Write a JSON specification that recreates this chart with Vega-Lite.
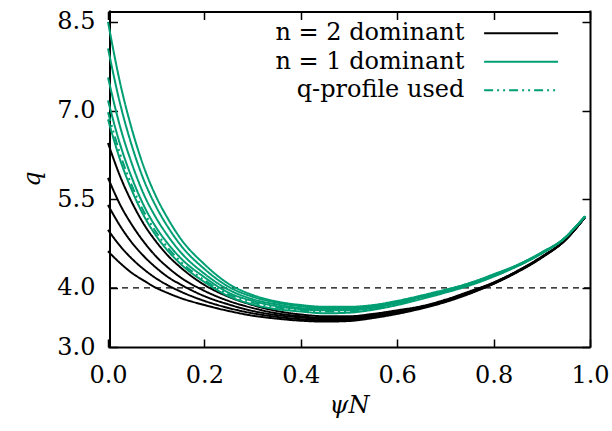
{
  "$schema": "https://vega.github.io/schema/vega-lite/v6.json",
  "width": 482,
  "height": 337,
  "autosize": {"type": "none"},
  "padding": {"left": 108, "top": 10, "right": 22, "bottom": 84},
  "background": "white",
  "config": {
    "view": {"stroke": null},
    "font": "DejaVu Serif",
    "axis": {
      "grid": false,
      "domain": true,
      "domainColor": "black",
      "domainWidth": 2,
      "ticks": true,
      "tickColor": "black",
      "tickWidth": 1.5,
      "tickSize": -8,
      "labelFlush": false,
      "labelOverlap": false,
      "labelFont": "DejaVu Serif",
      "labelFontSize": 24,
      "labelColor": "black",
      "titleFont": "DejaVu Serif",
      "titleFontSize": 24,
      "titleColor": "black",
      "titleFontWeight": "normal"
    }
  },
  "datasets": {
    "curves": [
      {"curve": "b1", "group": "n = 2 dominant"},
      {"curve": "b2", "group": "n = 2 dominant"},
      {"curve": "b3", "group": "n = 2 dominant"},
      {"curve": "b4", "group": "n = 2 dominant"},
      {"curve": "b5", "group": "n = 2 dominant"},
      {"curve": "g1", "group": "n = 1 dominant"},
      {"curve": "d", "group": "q-profile used"},
      {"curve": "g2", "group": "n = 1 dominant"},
      {"curve": "g3", "group": "n = 1 dominant"},
      {"curve": "g4", "group": "n = 1 dominant"},
      {"curve": "g5", "group": "n = 1 dominant"}
    ],
    "profiles": [
      {"psi": 0, "b1": 4.62, "b2": 4.98, "b3": 5.40, "b4": 5.86, "b5": 6.45, "g1": 6.85, "d": 6.97, "g2": 7.17, "g3": 7.56, "g4": 8.05, "g5": 8.50},
      {"psi": 0.025, "b1": 4.42, "b2": 4.71, "b3": 5.05, "b4": 5.41, "b5": 5.89, "g1": 6.17, "d": 6.27, "g2": 6.43, "g3": 6.73, "g4": 7.12, "g5": 7.47},
      {"psi": 0.05, "b1": 4.25, "b2": 4.49, "b3": 4.76, "b4": 5.06, "b5": 5.44, "g1": 5.64, "d": 5.72, "g2": 5.85, "g3": 6.09, "g4": 6.39, "g5": 6.67},
      {"psi": 0.075, "b1": 4.12, "b2": 4.31, "b3": 4.53, "b4": 4.77, "b5": 5.07, "g1": 5.21, "d": 5.28, "g2": 5.38, "g3": 5.57, "g4": 5.81, "g5": 6.03},
      {"psi": 0.1, "b1": 4.00, "b2": 4.16, "b3": 4.34, "b4": 4.53, "b5": 4.78, "g1": 4.88, "d": 4.94, "g2": 5.02, "g3": 5.18, "g4": 5.37, "g5": 5.54},
      {"psi": 0.125, "b1": 3.91, "b2": 4.04, "b3": 4.18, "b4": 4.34, "b5": 4.54, "g1": 4.62, "d": 4.67, "g2": 4.74, "g3": 4.87, "g4": 5.02, "g5": 5.16},
      {"psi": 0.15, "b1": 3.83, "b2": 3.94, "b3": 4.06, "b4": 4.18, "b5": 4.35, "g1": 4.41, "d": 4.45, "g2": 4.51, "g3": 4.61, "g4": 4.73, "g5": 4.84},
      {"psi": 0.2, "b1": 3.71, "b2": 3.78, "b3": 3.86, "b4": 3.95, "b5": 4.05, "g1": 4.10, "d": 4.13, "g2": 4.18, "g3": 4.24, "g4": 4.32, "g5": 4.40},
      {"psi": 0.25, "b1": 3.61, "b2": 3.66, "b3": 3.72, "b4": 3.78, "b5": 3.85, "g1": 3.86, "d": 3.89, "g2": 3.92, "g3": 3.97, "g4": 4.02, "g5": 4.07},
      {"psi": 0.3, "b1": 3.53, "b2": 3.57, "b3": 3.61, "b4": 3.66, "b5": 3.71, "g1": 3.72, "d": 3.75, "g2": 3.78, "g3": 3.81, "g4": 3.85, "g5": 3.88},
      {"psi": 0.35, "b1": 3.48, "b2": 3.51, "b3": 3.54, "b4": 3.57, "b5": 3.61, "g1": 3.64, "d": 3.67, "g2": 3.69, "g3": 3.72, "g4": 3.75, "g5": 3.77},
      {"psi": 0.4, "b1": 3.445, "b2": 3.47, "b3": 3.50, "b4": 3.52, "b5": 3.55, "g1": 3.60, "d": 3.62, "g2": 3.64, "g3": 3.66, "g4": 3.69, "g5": 3.71},
      {"psi": 0.45, "b1": 3.43, "b2": 3.45, "b3": 3.47, "b4": 3.49, "b5": 3.52, "g1": 3.57, "d": 3.60, "g2": 3.62, "g3": 3.64, "g4": 3.66, "g5": 3.68},
      {"psi": 0.5, "b1": 3.44, "b2": 3.46, "b3": 3.48, "b4": 3.50, "b5": 3.52, "g1": 3.58, "d": 3.60, "g2": 3.62, "g3": 3.64, "g4": 3.66, "g5": 3.68},
      {"psi": 0.55, "b1": 3.49, "b2": 3.51, "b3": 3.52, "b4": 3.54, "b5": 3.56, "g1": 3.63, "d": 3.65, "g2": 3.66, "g3": 3.68, "g4": 3.69, "g5": 3.71},
      {"psi": 0.6, "b1": 3.56, "b2": 3.57, "b3": 3.59, "b4": 3.60, "b5": 3.62, "g1": 3.71, "d": 3.72, "g2": 3.74, "g3": 3.75, "g4": 3.76, "g5": 3.78},
      {"psi": 0.65, "b1": 3.65, "b2": 3.66, "b3": 3.67, "b4": 3.68, "b5": 3.69, "g1": 3.81, "d": 3.83, "g2": 3.84, "g3": 3.85, "g4": 3.86, "g5": 3.87},
      {"psi": 0.7, "b1": 3.76, "b2": 3.77, "b3": 3.78, "b4": 3.79, "b5": 3.80, "g1": 3.92, "d": 3.93, "g2": 3.94, "g3": 3.95, "g4": 3.96, "g5": 3.97},
      {"psi": 0.75, "b1": 3.90, "b2": 3.91, "b3": 3.92, "b4": 3.93, "b5": 3.94, "g1": 4.04, "d": 4.05, "g2": 4.06, "g3": 4.07, "g4": 4.08, "g5": 4.08},
      {"psi": 0.8, "b1": 4.07, "b2": 4.07, "b3": 4.08, "b4": 4.09, "b5": 4.09, "g1": 4.19, "d": 4.20, "g2": 4.21, "g3": 4.22, "g4": 4.22, "g5": 4.23},
      {"psi": 0.85, "b1": 4.27, "b2": 4.275, "b3": 4.28, "b4": 4.285, "b5": 4.29, "g1": 4.37, "d": 4.37, "g2": 4.38, "g3": 4.38, "g4": 4.39, "g5": 4.39},
      {"psi": 0.9, "b1": 4.51, "b2": 4.52, "b3": 4.52, "b4": 4.52, "b5": 4.53, "g1": 4.58, "d": 4.59, "g2": 4.59, "g3": 4.59, "g4": 4.60, "g5": 4.60},
      {"psi": 0.95, "b1": 4.82, "b2": 4.82, "b3": 4.82, "b4": 4.82, "b5": 4.82, "g1": 4.86, "d": 4.86, "g2": 4.86, "g3": 4.86, "g4": 4.86, "g5": 4.86},
      {"psi": 0.97, "b1": 5.00, "b2": 5.00, "b3": 5.00, "b4": 5.00, "b5": 5.00, "g1": 5.03, "d": 5.03, "g2": 5.03, "g3": 5.03, "g4": 5.03, "g5": 5.03},
      {"psi": 0.99, "b1": 5.20, "b2": 5.20, "b3": 5.20, "b4": 5.20, "b5": 5.20, "g1": 5.21, "d": 5.21, "g2": 5.21, "g3": 5.21, "g4": 5.21, "g5": 5.21}
    ]
  },
  "layer": [
    {
      "data": {"values": [{"level": 4}]},
      "mark": {"type": "rule", "color": "black", "strokeWidth": 1.2, "strokeDash": [6, 5]},
      "encoding": {
        "y": {"field": "level", "type": "quantitative", "axis": null}
      }
    },
    {
      "data": {"name": "profiles"},
      "transform": [
        {"fold": ["b1", "b2", "b3", "b4", "b5", "g1", "d", "g2", "g3", "g4", "g5"], "as": ["curve", "q"]},
        {"lookup": "curve", "from": {"data": {"name": "curves"}, "key": "curve", "fields": ["group"]}}
      ],
      "mark": {"type": "line", "interpolate": "monotone", "strokeWidth": 2},
      "encoding": {
        "x": {
          "field": "psi", "type": "quantitative",
          "scale": {"domain": [0, 1], "nice": false},
          "axis": {"orient": "bottom", "values": [0, 0.2, 0.4, 0.6, 0.8, 1.0], "format": ".1f", "labelPadding": 24, "title": "ψN", "titleFontStyle": "italic", "titlePadding": 6}
        },
        "y": {
          "field": "q", "type": "quantitative",
          "scale": {"domain": [3.0, 8.7], "nice": false, "zero": false},
          "axis": {"orient": "left", "offset": -1.5, "values": [3.0, 4.0, 5.5, 7.0, 8.5], "format": ".1f", "labelPadding": 22.5, "title": "q", "titleFontStyle": "italic", "titlePadding": 12}
        },
        "color": {
          "field": "group", "type": "nominal",
          "scale": {"domain": ["n = 2 dominant", "n = 1 dominant", "q-profile used"], "range": ["#000000", "#009e73", "#009e73"]},
          "legend": {"orient": "none", "legendX": 399.6, "legendY": 9.7, "title": null, "padding": 0, "symbolType": "M-3,0H3", "symbolSize": 608, "symbolStrokeWidth": 2, "labelAlign": "right", "labelOffset": -70.3, "labelFontSize": 24, "labelFont": "DejaVu Serif", "labelColor": "black", "labelLimit": 400, "rowPadding": 2.5}
        },
        "strokeDash": {
          "field": "group", "type": "nominal",
          "scale": {"domain": ["n = 2 dominant", "n = 1 dominant", "q-profile used"], "range": [[1, 0], [1, 0], [9, 4, 2, 4, 2, 4]]},
          "legend": {"orient": "none", "legendX": 399.6, "legendY": 9.7, "title": null, "padding": 0, "symbolType": "M-3,0H3", "symbolSize": 608, "symbolStrokeWidth": 2, "labelAlign": "right", "labelOffset": -70.3, "labelFontSize": 24, "labelFont": "DejaVu Serif", "labelColor": "black", "labelLimit": 400, "rowPadding": 2.5}
        },
        "detail": {"field": "curve", "type": "nominal"}
      }
    },
    {
      "data": {"name": "profiles"},
      "mark": {"type": "point", "opacity": 0},
      "encoding": {
        "x": {"field": "psi", "type": "quantitative", "axis": {"orient": "top", "offset": -1.5, "values": [0, 0.2, 0.4, 0.6, 0.8, 1.0], "labels": false, "title": null}},
        "y": {"field": "b1", "type": "quantitative", "axis": {"orient": "right", "values": [3.0, 4.0, 5.5, 7.0, 8.5], "labels": false, "title": null}}
      }
    }
  ],
  "resolve": {"axis": {"x": "independent", "y": "independent"}}
}
